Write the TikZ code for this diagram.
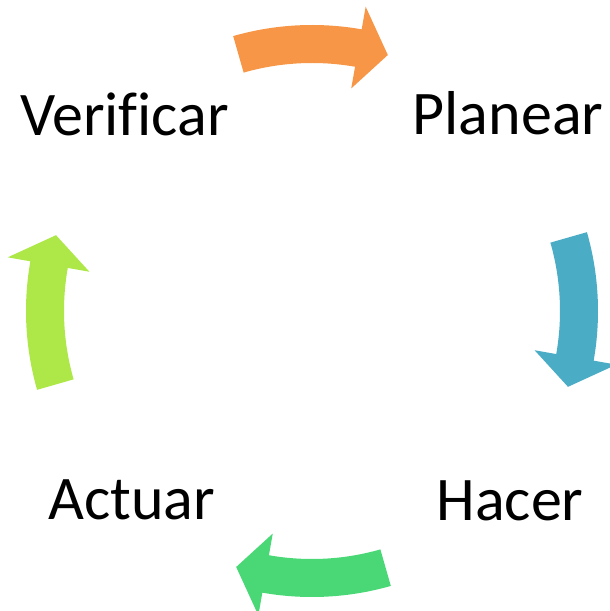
\documentclass[tikz,border=0pt]{standalone}
\usepackage{fontspec}
\setmainfont{Carlito}[Ligatures=NoCommon]
\definecolor{planorange}{HTML}{F79646}
\definecolor{hacerblue}{HTML}{4BACC6}
\definecolor{actuargreen}{HTML}{4AD877}
\definecolor{verifylime}{HTML}{ADE848}
\begin{document}
\begin{tikzpicture}[x=1pt, y=1pt, fase/.style={font=\fontsize{62}{64}\selectfont, anchor=base, inner sep=0pt}]
	\useasboundingbox (0,0) rectangle (610,611);
	\clip (0,0) rectangle (610,611);
	%flechas del ciclo
	\foreach \axis/\col in {90/planorange, 0/hacerblue, 270/actuargreen, 180/verifylime}
	\fill[\col, shift={(312,300)}] (\axis+16:286) arc[start angle=\axis+16, end angle=\axis-10, radius=286] -- (\axis-10:309) -- (\axis-16.5:267) -- (\axis-10:226) -- (\axis-10:248) arc[start angle=\axis-10, end angle=\axis+16, radius=248] -- cycle;
	
	%textos
	\node[fase] (verificar) at (124.5,475.5) {Verificar};
	\node[fase] (planear) at (508,476) {Planear};
	\node[fase] (hacer) at (510,90.5) {Hacer};
	\node[fase] (actuar) at (131.5,91) {Actuar};
\end{tikzpicture}
\end{document}
